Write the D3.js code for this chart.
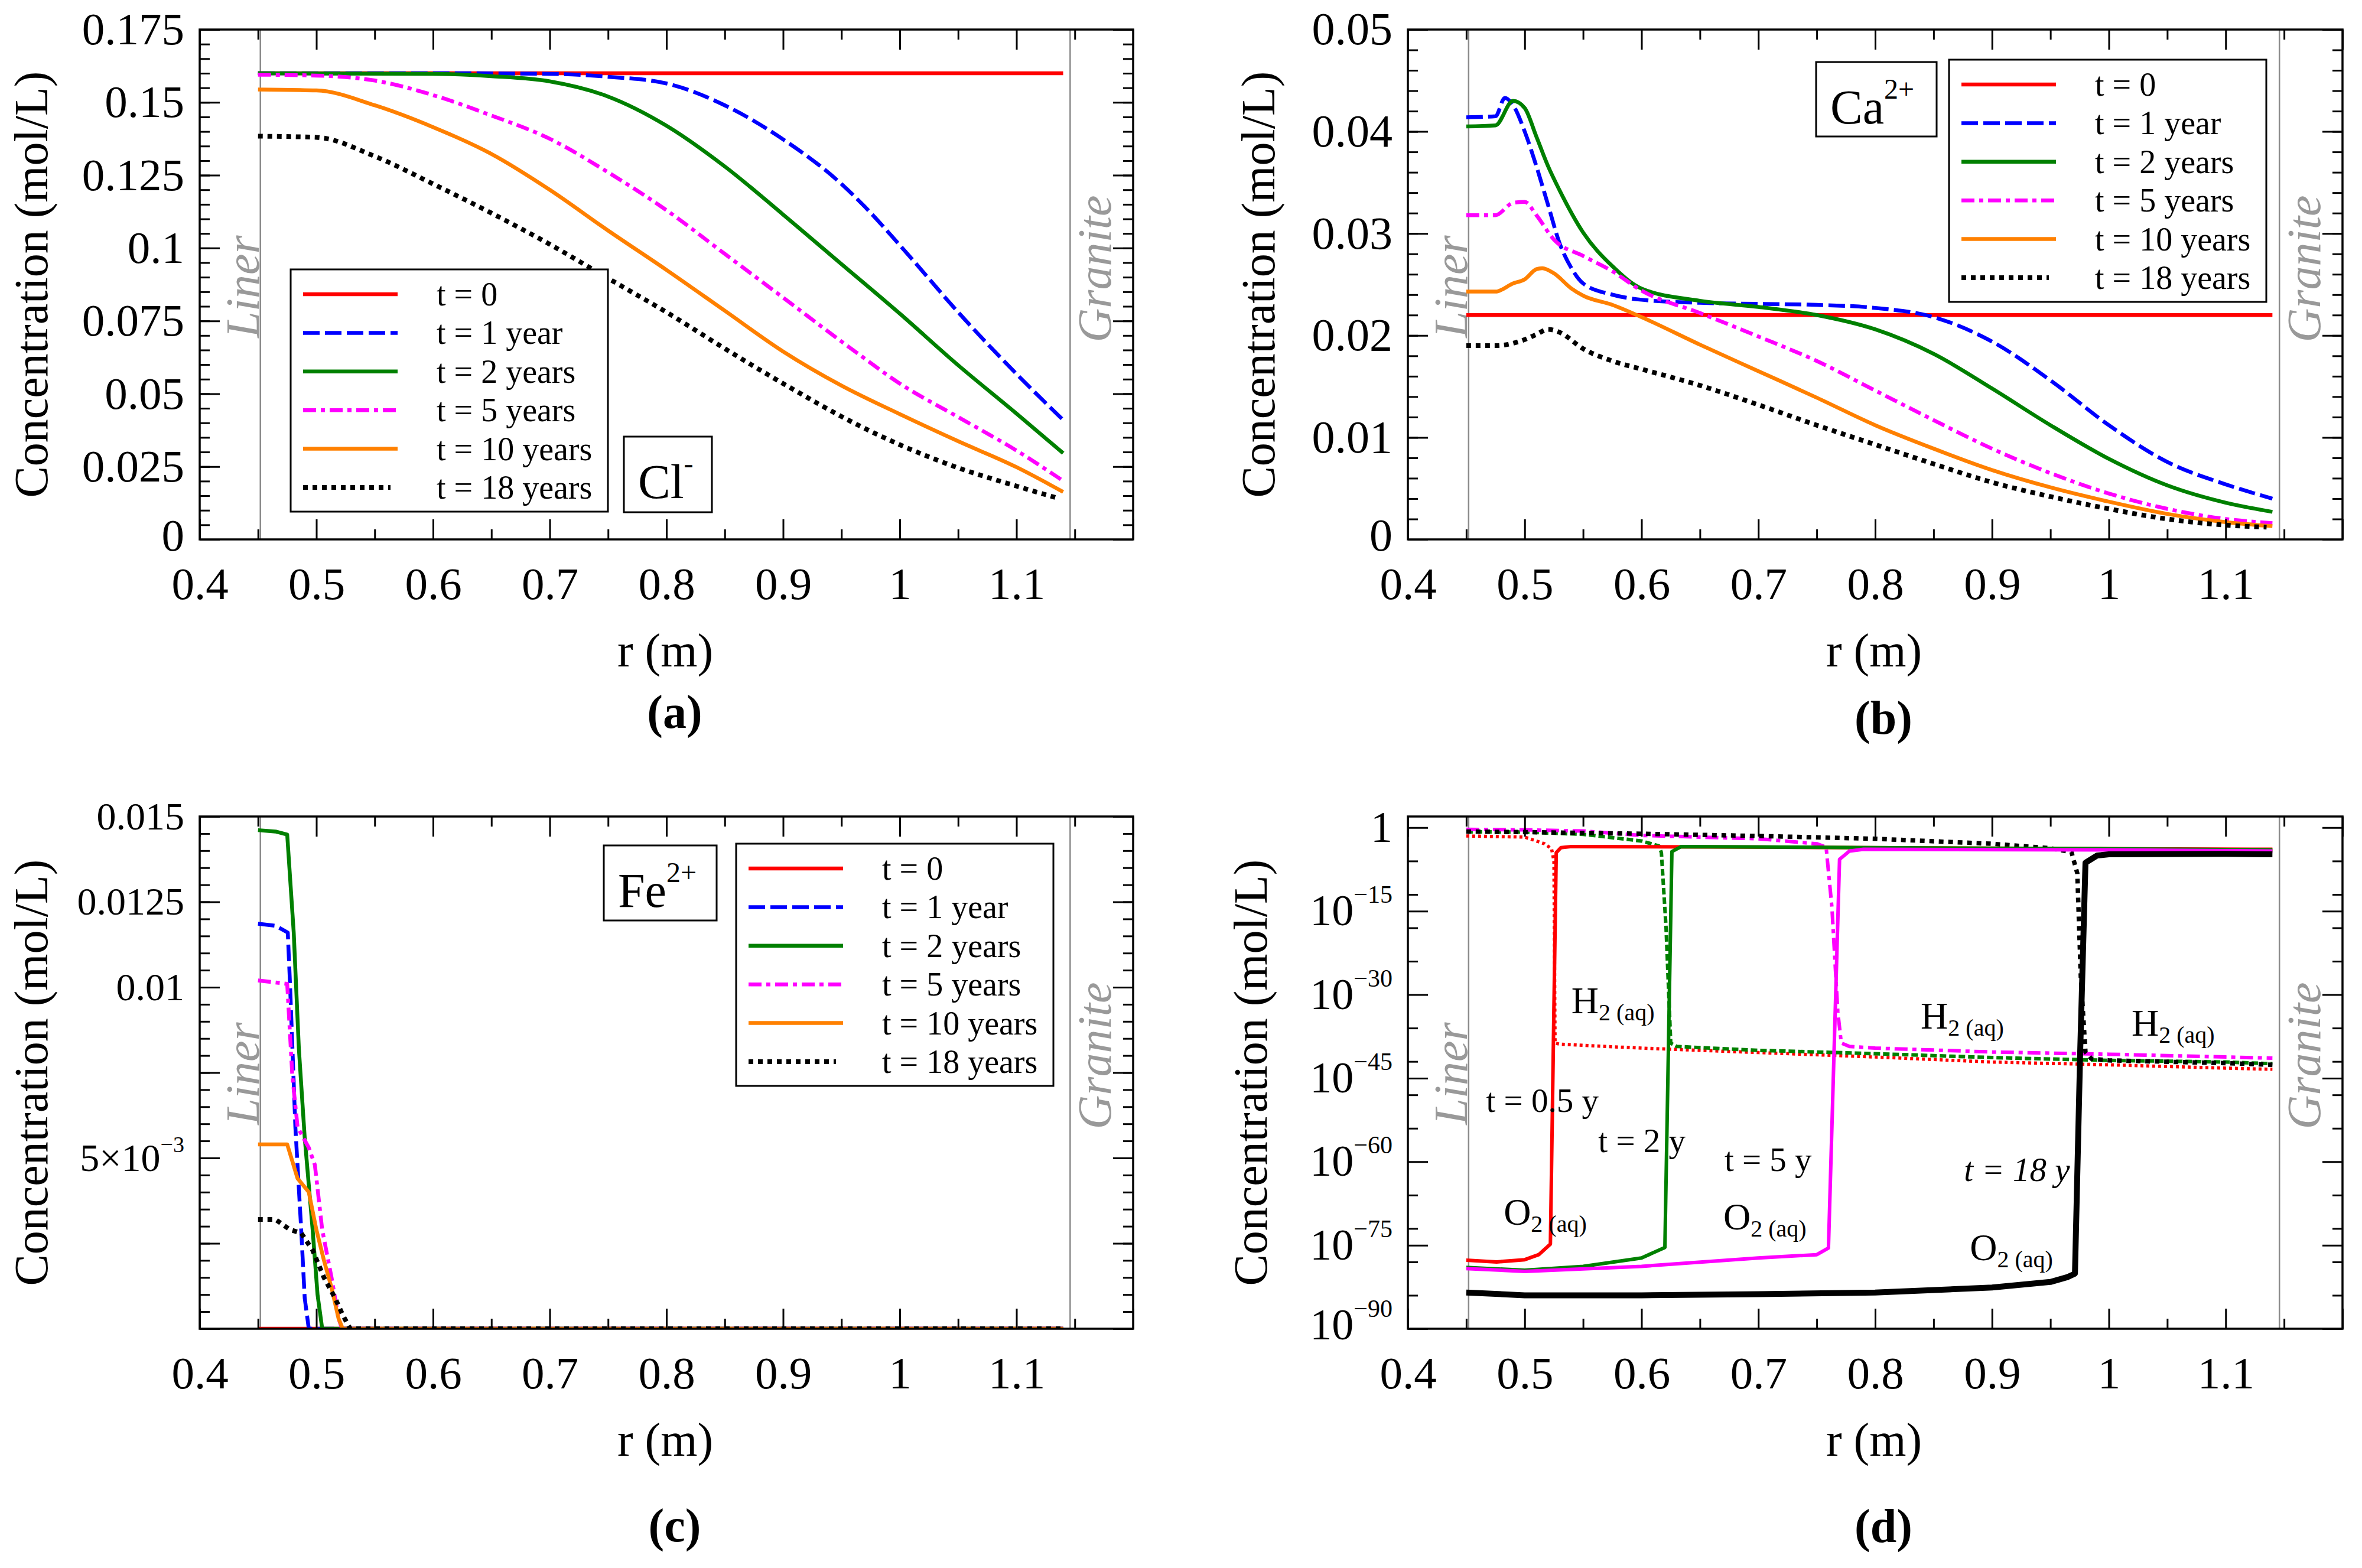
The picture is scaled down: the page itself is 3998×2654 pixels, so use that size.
<!DOCTYPE html>
<html>
<head>
<meta charset="utf-8">
<script src="https://cdn.jsdelivr.net/npm/d3@7"></script>
<style>
html, body { margin: 0; padding: 0; background: #fff; }
svg { display: block; }
</style>
</head>
<body>
<div id="chart"></div>
<script>
const FONT = '"Liberation Serif", "Times New Roman", serif'

// ---------- shared axes / labels ----------
const timeLabels = ["t = 0", "t = 1 year", "t = 2 years", "t = 5 years", "t = 10 years", "t = 18 years"]
const xMajor = [0.4, 0.5, 0.6, 0.7, 0.8, 0.9, 1.0, 1.1, 1.2]
const xLabeled = [0.4, 0.5, 0.6, 0.7, 0.8, 0.9, 1.0, 1.1]
const xMinor = [0.45, 0.55, 0.65, 0.75, 0.85, 0.95, 1.05, 1.15]
const boundaries = [0.452, 1.146]   // liner / granite interfaces

// ---------- (a) Cl- ----------
const aMajor = [0, 0.025, 0.05, 0.075, 0.1, 0.125, 0.15, 0.175]
const aMinor = d3.range(0, 0.1751, 0.005)
const clT0 = [[0.45, 0.16], [1.14, 0.16]]
const clT1 = [[0.45, 0.16], [0.6, 0.16], [0.7, 0.1598], [0.75, 0.1588], [0.8, 0.1565], [0.85, 0.149], [0.9, 0.1373], [0.95, 0.122], [0.97, 0.1142], [1.0, 0.101], [1.05, 0.078], [1.1, 0.0568], [1.14, 0.041]]
const clT2 = [[0.45, 0.16], [0.6, 0.1598], [0.65, 0.159], [0.7, 0.1572], [0.75, 0.152], [0.8, 0.142], [0.85, 0.128], [0.9, 0.1115], [0.95, 0.0945], [1.0, 0.0775], [1.05, 0.0598], [1.1, 0.0432], [1.14, 0.0296]]
const clT5 = [[0.45, 0.1595], [0.5, 0.1592], [0.55, 0.1575], [0.6, 0.1525], [0.65, 0.1455], [0.7, 0.1375], [0.75, 0.126], [0.8, 0.113], [0.85, 0.098], [0.9, 0.083], [0.963, 0.0641], [1.0, 0.0535], [1.05, 0.042], [1.1, 0.0305], [1.14, 0.0201]]
const clT10 = [[0.45, 0.1544], [0.5, 0.1541], [0.55, 0.149], [0.6, 0.1415], [0.65, 0.1323], [0.7, 0.12], [0.75, 0.106], [0.8, 0.0925], [0.85, 0.0785], [0.9, 0.0645], [0.95, 0.0528], [1.0, 0.043], [1.05, 0.0337], [1.1, 0.0248], [1.14, 0.0163]]
const clT18 = [[0.45, 0.1384], [0.5, 0.138], [0.55, 0.1315], [0.6, 0.122], [0.65, 0.112], [0.7, 0.1013], [0.75, 0.0896], [0.8, 0.078], [0.85, 0.0655], [0.9, 0.0535], [0.963, 0.0395], [1.0, 0.0325], [1.047, 0.025], [1.1, 0.0183], [1.135, 0.0142]]

// ---------- (b) Ca2+ ----------
const bMajor = [0, 0.01, 0.02, 0.03, 0.04, 0.05]
const bMinor = d3.range(0, 0.0501, 0.002)
const caT0 = [[0.45, 0.022], [1.14, 0.022]]
const caT1 = [[0.45, 0.0414], [0.475, 0.0415], [0.483, 0.0433], [0.49, 0.0426], [0.5, 0.040], [0.51, 0.0366], [0.52, 0.0328], [0.53, 0.029], [0.54, 0.0266], [0.55, 0.0251], [0.575, 0.024], [0.6, 0.0235], [0.65, 0.0232], [0.7, 0.0231], [0.75, 0.023], [0.8, 0.0227], [0.85, 0.0218], [0.9, 0.0194], [0.95, 0.0156], [1.0, 0.0112], [1.05, 0.0076], [1.1, 0.0054], [1.14, 0.004]]
const caT2 = [[0.45, 0.0405], [0.475, 0.0406], [0.49, 0.043], [0.5, 0.0423], [0.51, 0.0395], [0.52, 0.0366], [0.53, 0.0342], [0.55, 0.0301], [0.575, 0.0268], [0.6, 0.0246], [0.65, 0.0234], [0.7, 0.0228], [0.75, 0.022], [0.8, 0.0206], [0.85, 0.0182], [0.9, 0.0148], [0.95, 0.0112], [1.0, 0.0079], [1.05, 0.0053], [1.1, 0.0036], [1.14, 0.0027]]
const caT5 = [[0.45, 0.0318], [0.475, 0.0318], [0.49, 0.033], [0.5, 0.0331], [0.51, 0.0318], [0.525, 0.0294], [0.55, 0.0278], [0.575, 0.0263], [0.6, 0.0244], [0.65, 0.0222], [0.7, 0.0199], [0.75, 0.0175], [0.8, 0.0146], [0.85, 0.0117], [0.9, 0.0089], [0.95, 0.0065], [1.0, 0.0045], [1.05, 0.003], [1.1, 0.002], [1.14, 0.0016]]
const caT10 = [[0.45, 0.0243], [0.475, 0.0243], [0.49, 0.0251], [0.5, 0.0255], [0.51, 0.0265], [0.515, 0.0266], [0.525, 0.0261], [0.54, 0.0246], [0.55, 0.0239], [0.575, 0.023], [0.6, 0.0218], [0.65, 0.0191], [0.7, 0.0165], [0.75, 0.0139], [0.8, 0.0112], [0.85, 0.0089], [0.9, 0.0068], [0.95, 0.0051], [1.0, 0.0037], [1.05, 0.0025], [1.1, 0.0017], [1.14, 0.0013]]
const caT18 = [[0.45, 0.019], [0.475, 0.019], [0.5, 0.0196], [0.51, 0.0201], [0.52, 0.0206], [0.53, 0.0203], [0.55, 0.0187], [0.575, 0.0175], [0.6, 0.0167], [0.65, 0.0151], [0.7, 0.0132], [0.75, 0.0112], [0.8, 0.0093], [0.85, 0.0074], [0.9, 0.0056], [0.95, 0.0042], [1.0, 0.003], [1.05, 0.002], [1.1, 0.0014], [1.135, 0.0012]]

// ---------- (c) Fe2+ ----------
const cMajor = [0, 0.0025, 0.005, 0.0075, 0.01, 0.0125, 0.015]
const cTickLabels = [[""], [""], ["5×10", "−3"], [""], ["0.01"], ["0.0125"], ["0.015"]]
const cMinor = d3.range(0, 0.01501, 0.0005)
const feT0 = [[0.45, 0], [1.14, 0]]
const feT1 = [[0.45, 0.01186], [0.465, 0.0118], [0.4755, 0.0116], [0.4774, 0.0101], [0.482, 0.0059], [0.487, 0.0029], [0.49, 0.0009], [0.4935, 0], [1.14, 0]]
const feT2 = [[0.45, 0.0146], [0.465, 0.01456], [0.475, 0.01447], [0.4806, 0.0116], [0.485, 0.0082], [0.49, 0.0056], [0.4968, 0.0029], [0.501, 0.001], [0.505, 0], [1.14, 0]]
const feT5 = [[0.45, 0.0102], [0.475, 0.0101], [0.4794, 0.0074], [0.4839, 0.0059], [0.4935, 0.0053], [0.4987, 0.0048], [0.505, 0.0029], [0.513, 0.0015], [0.519, 0.0003], [0.522, 0], [1.14, 0]]
const feT10 = [[0.45, 0.0054], [0.475, 0.0054], [0.4839, 0.0044], [0.4935, 0.004], [0.5, 0.0029], [0.5065, 0.002], [0.513, 0.0012], [0.519, 0.0003], [0.5226, 0], [1.14, 0]]
const feT18 = [[0.45, 0.0032], [0.465, 0.0032], [0.4774, 0.0029], [0.487, 0.0028], [0.4968, 0.0023], [0.5065, 0.0015], [0.516, 0.0009], [0.5226, 0.0004], [0.529, 0], [1.14, 0]]

// ---------- (d) O2(aq) / H2(aq), values are log10 of concentration ----------
const dMajor = [1, 1e-15, 1e-30, 1e-45, 1e-60, 1e-75, 1e-90]
const dTickLabels = [["1"], ["10", "−15"], ["10", "−30"], ["10", "−45"], ["10", "−60"], ["10", "−75"], ["10", "−90"]]
const dMinor = [1e-6, 1e-12, 1e-18, 1e-24, 1e-36, 1e-42, 1e-48, 1e-54, 1e-66, 1e-72, 1e-78, 1e-84]
const o2T05 = [[0.45, -77.7], [0.476, -78.0], [0.5, -77.6], [0.512, -76.7], [0.522, -74.8], [0.527, -4.5], [0.531, -3.6], [0.54, -3.4], [0.7, -3.5], [0.9, -3.7], [1.14, -3.9]]
const h2T05 = [[0.45, -1.5], [0.5, -1.7], [0.517, -2.9], [0.523, -3.8], [0.525, -6], [0.526, -38.7], [0.53, -38.9], [0.6, -39.6], [0.7, -40.4], [0.8, -41.2], [0.9, -42.1], [1.0, -42.6], [1.1, -43.2], [1.14, -43.4]]
const o2T2 = [[0.45, -79.0], [0.5, -79.5], [0.55, -78.8], [0.6, -77.3], [0.62, -75.4], [0.626, -4.3], [0.634, -3.4], [0.8, -3.6], [1.0, -3.8], [1.14, -4.0]]
const h2T2 = [[0.45, -0.75], [0.5, -0.8], [0.55, -1.2], [0.6, -2.4], [0.615, -3.3], [0.617, -4.5], [0.621, -18], [0.625, -38.7], [0.63, -39.3], [0.7, -40.0], [0.8, -40.6], [0.9, -41.3], [1.0, -41.8], [1.1, -42.1], [1.14, -42.4]]
const o2T5 = [[0.45, -79.2], [0.5, -79.7], [0.6, -78.8], [0.7, -77.3], [0.75, -76.7], [0.76, -75.5], [0.7695, -5.7], [0.778, -4.2], [0.79, -3.9], [1.0, -4.0], [1.14, -4.2]]
const h2T5 = [[0.45, -0.3], [0.5, -0.4], [0.55, -0.6], [0.6, -1.4], [0.7, -2.0], [0.75, -2.9], [0.758, -3.5], [0.763, -14.4], [0.768, -33.1], [0.771, -38.7], [0.778, -39.3], [0.8, -39.6], [0.9, -40.3], [1.0, -40.7], [1.1, -41.2], [1.14, -41.4]]
const o2T18 = [[0.45, -83.5], [0.5, -84.0], [0.6, -84.0], [0.7, -83.8], [0.8, -83.5], [0.9, -82.6], [0.95, -81.6], [0.965, -80.7], [0.971, -80.1], [0.9755, -40], [0.98, -6.3], [0.99, -5.0], [1.0, -4.8], [1.1, -4.7], [1.14, -4.8]]
const h2T18 = [[0.45, -0.7], [0.5, -0.8], [0.6, -1.1], [0.7, -1.5], [0.8, -2.0], [0.9, -2.9], [0.95, -3.7], [0.968, -4.4], [0.973, -8.2], [0.976, -26.9], [0.98, -40.3], [0.985, -41.5], [1.0, -41.8], [1.1, -42.3], [1.14, -42.6]]

// text annotations in (d): [main, subscript, r, log10 c, italic]
const dNotes = [
  ["H", "2 (aq)", 0.540, -33.3, false],
  ["H", "2 (aq)", 0.839, -36.1, false],
  ["H", "2 (aq)", 1.0195, -37.4, false],
  ["O", "2 (aq)", 0.482, -71.3, false],
  ["O", "2 (aq)", 0.670, -72.2, false],
  ["O", "2 (aq)", 0.881, -77.7, false],
  ["t = 0.5 y", "", 0.467, -51.1, false],
  ["t = 2 y", "", 0.563, -58.3, false],
  ["t = 5 y", "", 0.671, -61.7, false],
  ["t = 18 y", "", 0.876, -63.5, true]
]

// ---------- styles ----------
const timeStyles = [
  { color: "#ff0000", dash: null, width: 6.5 },
  { color: "#0000ff", dash: "28,9", width: 6.5 },
  { color: "#008000", dash: null, width: 6.5 },
  { color: "#ff00ff", dash: "22,8,7,8", width: 6.5 },
  { color: "#ff8000", dash: null, width: 6.5 },
  { color: "#000000", dash: "8,8", width: 8 }
]

const svg = d3.select("#chart").append("svg")
  .attr("width", 3998).attr("height", 2654)
svg.append("rect").attr("width", 3998).attr("height", 2654).attr("fill", "#fff")

function withStyles(arrays) {
  return arrays.map((values, i) => Object.assign({ values }, timeStyles[i]))
}

function addAxis(g, axisFn, scale, values, size, pos, fmt, pad) {
  return g.append("g").attr("transform", pos)
    .call(axisFn(scale).tickValues(values).tickSize(-size).tickPadding(pad || 0).tickFormat(fmt || (() => "")))
    .call(a => a.select(".domain").remove())
    .call(a => a.selectAll(".tick line").attr("stroke", "#000").attr("stroke-width", 3))
}

function drawPanel(p) {
  const g = svg.append("g")
  const x = d3.scaleLinear().domain([0.4, 1.2]).range([p.x0, p.x1])
  const y = (p.log ? d3.scaleLog() : d3.scaleLinear()).domain(p.yDomain).range([p.y1, p.y0])
  const yv = d => p.log ? Math.pow(10, d[1]) : d[1]

  svg.append("clipPath").attr("id", "clip-" + p.id).append("rect")
    .attr("x", p.x0).attr("y", p.y0).attr("width", p.x1 - p.x0).attr("height", p.y1 - p.y0)

  // liner / granite boundaries
  g.selectAll(".bound").data(boundaries).join("line")
    .attr("x1", d => x(d)).attr("x2", d => x(d))
    .attr("y1", p.y0).attr("y2", p.y1)
    .attr("stroke", "#8a8a8a").attr("stroke-width", 2.5)

  const bText = [["Liner", x(boundaries[0]) - 3, p.y0 + 435], ["Granite", x(boundaries[1]) + 69, p.y0 + 405]]
  g.selectAll(".btext").data(bText).join("text")
    .attr("transform", d => `translate(${d[1]},${d[2]}) rotate(-90)`)
    .attr("text-anchor", "middle")
    .attr("font-family", FONT).attr("font-style", "italic").attr("font-size", 80)
    .attr("fill", "#999")
    .text(d => d[0])

  // data lines
  const line = d3.line().x(d => x(d[0])).y(d => y(yv(d))).curve(p.curve)
  g.append("g").attr("clip-path", `url(#clip-${p.id})`)
    .selectAll("path").data(p.series).join("path")
    .attr("d", s => line(s.values))
    .attr("fill", "none")
    .attr("stroke", s => s.color)
    .attr("stroke-width", s => s.width)
    .attr("stroke-dasharray", s => s.dash)
    .attr("stroke-linejoin", "round")

  // legend
  if (p.legend) {
    const L = g.append("g").attr("transform", `translate(${p.legend[0]},${p.legend[1]})`)
    L.append("rect").attr("width", 537).attr("height", 410)
      .attr("fill", "#fff").attr("stroke", "#000").attr("stroke-width", 3)
    const rows = L.selectAll(".row").data(timeStyles).join("g")
      .attr("transform", (d, i) => `translate(0,${42 + i * 65.4})`)
    rows.append("line")
      .attr("x1", 21).attr("x2", (d, i) => i === 5 ? 169 : 181)
      .attr("stroke", d => d.color).attr("stroke-width", d => d.width)
      .attr("stroke-dasharray", d => d.dash)
    rows.append("text")
      .attr("x", 247).attr("y", 19)
      .attr("font-family", FONT).attr("font-size", 56)
      .text((d, i) => timeLabels[i])
  }

  // species box
  if (p.species) {
    const s = p.species
    g.append("rect").attr("x", s.x).attr("y", s.y).attr("width", s.w).attr("height", s.h)
      .attr("fill", "#fff").attr("stroke", "#000").attr("stroke-width", 3)
    const t = g.append("text").attr("x", s.x + 24).attr("y", s.y + 104)
      .attr("font-family", FONT).attr("font-size", 82)
    t.append("tspan").text(s.main)
    t.append("tspan").attr("font-size", 48).attr("dy", -42).text(s.sup)
  }

  // annotations (d)
  if (p.notes) {
    p.notes.forEach(n => {
      const t = g.append("text").attr("x", x(n[2])).attr("y", y(Math.pow(10, n[3])))
        .attr("font-family", FONT).attr("font-size", n[1] ? 64 : 57)
        .attr("font-style", n[4] ? "italic" : "normal")
      t.append("tspan").text(n[0])
      if (n[1]) t.append("tspan").attr("font-size", 40).attr("dy", 12).text(n[1])
    })
  }

  // ticks on all four sides, pointing inward
  const xb = addAxis(g, d3.axisBottom, x, xMajor, 34, `translate(0,${p.y1})`,
    d => xLabeled.includes(d) ? d3.format("~g")(d) : "", 46)
  xb.selectAll("text").attr("font-family", FONT).attr("font-size", 77).attr("fill", "#000")
  addAxis(g, d3.axisBottom, x, xMinor, 17, `translate(0,${p.y1})`)
  addAxis(g, d3.axisTop, x, xMajor, 34, `translate(0,${p.y0})`)
  addAxis(g, d3.axisTop, x, xMinor, 17, `translate(0,${p.y0})`)

  const yl = addAxis(g, d3.axisLeft, y, p.yMajor, 34, `translate(${p.x0},0)`, () => "", 26)
  yl.selectAll("text").attr("font-family", FONT).attr("font-size", p.labelSize).attr("fill", "#000")
    .attr("y", d => d === p.yDomain[0] ? -6 : 0)
    .each(function (d) {
      const parts = p.yLabels[p.yMajor.indexOf(d)]
      const t = d3.select(this)
      t.append("tspan").text(parts[0])
      if (parts[1]) t.append("tspan").attr("font-size", p.supSize).attr("dy", -p.supRaise).text(parts[1])
    })
  addAxis(g, d3.axisLeft, y, p.yMinor, 17, `translate(${p.x0},0)`)
  addAxis(g, d3.axisRight, y, p.yMajor, 34, `translate(${p.x1},0)`)
  addAxis(g, d3.axisRight, y, p.yMinor, 17, `translate(${p.x1},0)`)

  g.append("rect").attr("x", p.x0).attr("y", p.y0)
    .attr("width", p.x1 - p.x0).attr("height", p.y1 - p.y0)
    .attr("fill", "none").attr("stroke", "#000").attr("stroke-width", 3.5)

  // titles
  const cx = (p.x0 + p.x1) / 2
  g.append("text").attr("transform", `translate(${p.titleX},${(p.y0 + p.y1) / 2}) rotate(-90)`)
    .attr("text-anchor", "middle").attr("font-family", FONT).attr("font-size", 80)
    .text("Concentration (mol/L)")
  g.append("text").attr("x", cx - 2).attr("y", p.y1 + 215)
    .attr("text-anchor", "middle").attr("font-family", FONT).attr("font-size", 80)
    .text("r (m)")
  g.append("text").attr("x", cx + 14).attr("y", p.letterY)
    .attr("text-anchor", "middle").attr("font-family", FONT).attr("font-size", 80)
    .attr("font-weight", "bold")
    .text(p.letter)
}

const fmt = d3.format("~g")

drawPanel({
  id: "a", x0: 338, x1: 1918, y0: 50, y1: 913, yDomain: [0, 0.175],
  yMajor: aMajor, yLabels: aMajor.map(v => [fmt(v)]), yMinor: aMinor, labelSize: 77,
  curve: d3.curveMonotoneX,
  series: withStyles([clT0, clT1, clT2, clT5, clT10, clT18]),
  legend: [492, 456],
  species: { x: 1056, y: 739, w: 149, h: 128, main: "Cl", sup: "-" },
  titleX: 80, letter: "(a)", letterY: 1232
})

drawPanel({
  id: "b", x0: 2383, x1: 3965, y0: 50, y1: 913, yDomain: [0, 0.05],
  yMajor: bMajor, yLabels: bMajor.map(v => [fmt(v)]), yMinor: bMinor, labelSize: 78,
  curve: d3.curveMonotoneX,
  series: withStyles([caT0, caT1, caT2, caT5, caT10, caT18]),
  legend: [3299, 101],
  species: { x: 3074, y: 105, w: 204, h: 126, main: "Ca", sup: "2+" },
  titleX: 2157, letter: "(b)", letterY: 1242
})

drawPanel({
  id: "c", x0: 338, x1: 1918, y0: 1382, y1: 2249, yDomain: [0, 0.015],
  yMajor: cMajor, yLabels: cTickLabels, yMinor: cMinor, labelSize: 66, supSize: 38, supRaise: 32,
  curve: d3.curveLinear,
  series: withStyles([feT0, feT1, feT2, feT5, feT10, feT18]),
  legend: [1246, 1428],
  species: { x: 1022, y: 1431, w: 191, h: 127, main: "Fe", sup: "2+" },
  titleX: 80, letter: "(c)", letterY: 2609
})

drawPanel({
  id: "d", x0: 2383, x1: 3965, y0: 1382, y1: 2249, yDomain: [1e-90, 1e2], log: true,
  yMajor: dMajor, yLabels: dTickLabels, yMinor: dMinor, labelSize: 74, supSize: 42, supRaise: 38,
  curve: d3.curveLinear,
  series: [
    { values: h2T05, color: "#ff0000", dash: "5,5", width: 5.5 },
    { values: h2T2, color: "#008000", dash: "11,5", width: 6 },
    { values: h2T5, color: "#ff00ff", dash: "22,8,7,8", width: 6 },
    { values: h2T18, color: "#000000", dash: "8,8", width: 7.5 },
    { values: o2T05, color: "#ff0000", dash: null, width: 6 },
    { values: o2T2, color: "#008000", dash: null, width: 6 },
    { values: o2T5, color: "#ff00ff", dash: null, width: 6 },
    { values: o2T18, color: "#000000", dash: null, width: 10 }
  ],
  notes: dNotes,
  titleX: 2144, letter: "(d)", letterY: 2610
})
</script>
</body>
</html>
